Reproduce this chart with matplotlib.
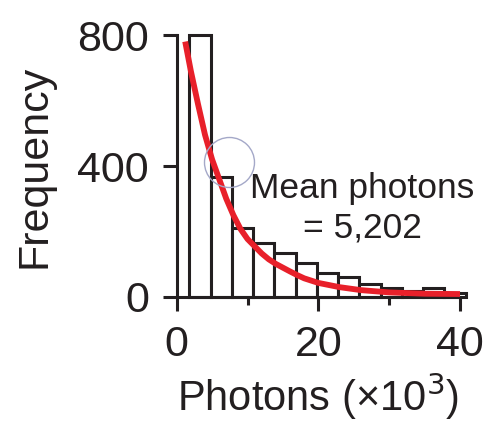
import matplotlib
matplotlib.use('Agg')
import matplotlib.pyplot as plt

plt.rcParams['font.family'] = ['Liberation Sans', 'DejaVu Sans']

# histogram bins (x10^3 photons), width 3
bin_left = [1.8, 4.8, 7.8, 10.8, 13.8, 16.8, 19.8, 22.8, 25.8, 28.8, 31.8, 34.8, 37.8]
counts = [800, 366, 210, 164, 133, 103, 72, 62, 39, 27, 18, 26, 12]
bin_w = 3.0

# exponential fit
fit_x = [1.2, 2, 3, 4, 5, 6, 7, 8, 9, 10, 11, 12, 13, 14, 16, 17, 18, 20, 23, 26, 30, 35, 40]
fit_y = [780, 690, 590, 495, 420, 360, 300, 250, 208, 177, 155, 133, 115, 101, 78, 67, 57, 43, 30, 21, 14, 10, 9]

# circle marker on the curve
circ_x = [7.4]
circ_y = [412]

txt = '#231f20'
fig = plt.figure(figsize=(4.85, 4.25), dpi=100)
ax = fig.add_axes([0.3643, 0.3012, 0.5842, 0.6164])

ax.bar(bin_left, counts, width=bin_w, align='edge', color='white',
       edgecolor=txt, linewidth=2.2, clip_on=False, zorder=2)
ax.plot(fit_x, fit_y, color='#e8202a', lw=4.2, solid_capstyle='butt', zorder=3, clip_on=False)
ax.plot(circ_x, circ_y, 'o', ms=36, mfc='none', mec='#a4a8c8', mew=1.0, zorder=4, clip_on=False)

ax.text(26.2, 272, 'Mean photons\n= 5,202', ha='center', va='center',
        fontsize=25.5, color=txt, linespacing=1.25)

ax.set_xlim(0, 40)
ax.set_ylim(0, 800)
ax.set_xticks([0, 20, 40])
ax.set_xticks([10, 30], minor=True)
ax.set_yticks([0, 400, 800])
for s in ['top', 'right']:
    ax.spines[s].set_visible(False)
for s in ['left', 'bottom']:
    ax.spines[s].set_linewidth(2.2)
    ax.spines[s].set_color(txt)
ax.tick_params(which='major', length=10, width=2.2, color=txt, labelsize=31,
               labelcolor=txt, pad=10)
ax.tick_params(which='minor', length=6, width=2.2, color=txt)

ax.set_xlabel('Photons (×10$^3$)', fontsize=30, color=txt, labelpad=4)
ax.set_ylabel('Frequency', fontsize=31, color=txt, labelpad=16)

fig.savefig('out.png', dpi=100)
